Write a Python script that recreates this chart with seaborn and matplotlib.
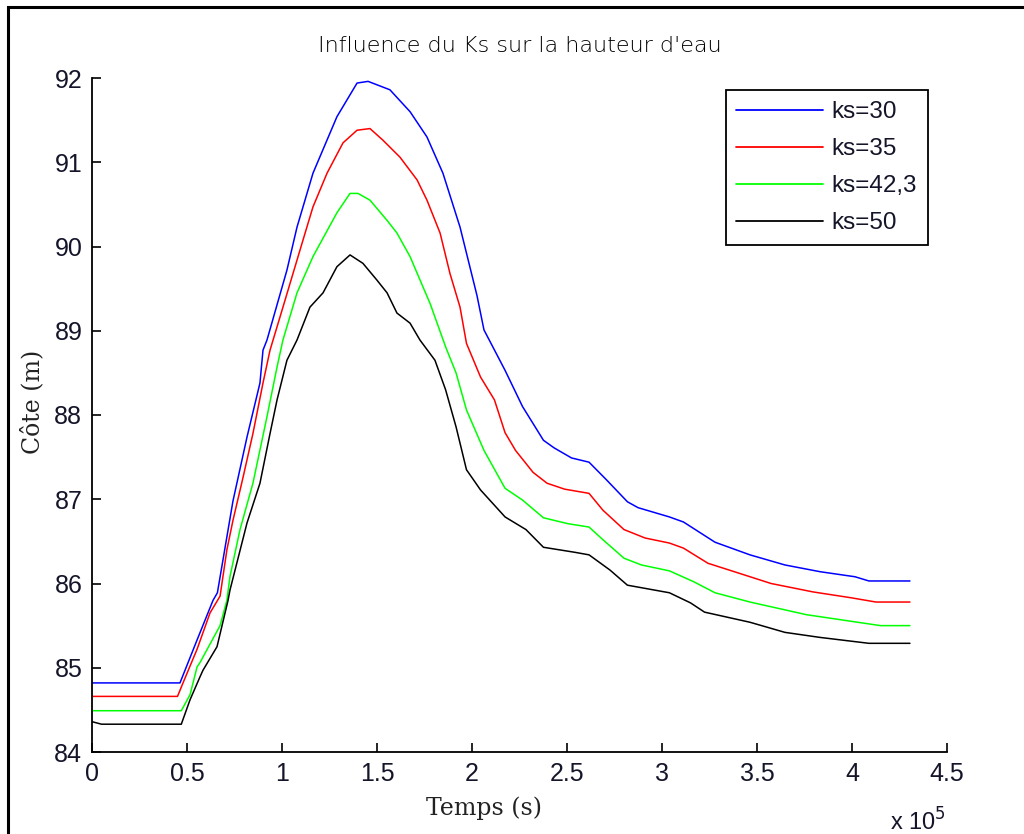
import numpy as np
import pandas as pd
import matplotlib
matplotlib.use("Agg")
import matplotlib.pyplot as plt
import seaborn as sns
from matplotlib.patches import Rectangle
from matplotlib.ticker import FuncFormatter

# ---- data (time in units of 1e5 s, water level in m) ----
labels = ["ks=30", "ks=35", "ks=42,3", "ks=50"]

t_ks30 = [0, 0.463, 0.553, 0.637, 0.66, 0.742, 0.816, 0.884, 0.90, 0.921, 1.026, 1.079, 1.163,
          1.289, 1.395, 1.453, 1.568, 1.674, 1.763, 1.847, 1.937, 2.026, 2.063, 2.174, 2.266,
          2.376, 2.432, 2.524, 2.616, 2.708, 2.818, 2.874, 3.039, 3.113, 3.279, 3.463, 3.647,
          3.832, 4.016, 4.089, 4.305]
h_ks30 = [84.82, 84.82, 85.33, 85.80, 85.89, 86.98, 87.74, 88.38, 88.77, 88.89, 89.72, 90.23, 90.87,
          91.54, 91.94, 91.96, 91.86, 91.60, 91.30, 90.87, 90.23, 89.42, 89.01, 88.53, 88.10,
          87.70, 87.61, 87.49, 87.44, 87.23, 86.97, 86.90, 86.79, 86.73, 86.49, 86.34, 86.22,
          86.14, 86.08, 86.03, 86.03]

t_ks35 = [0, 0.45, 0.479, 0.553, 0.621, 0.674, 0.71, 0.742, 0.795, 0.847, 0.90, 0.937, 0.953,
          1.005, 1.058, 1.111, 1.163, 1.237, 1.321, 1.395, 1.463, 1.532, 1.621, 1.711, 1.763,
          1.832, 1.884, 1.937, 1.971, 2.045, 2.118, 2.174, 2.229, 2.321, 2.395, 2.487, 2.616,
          2.689, 2.80, 2.911, 3.039, 3.113, 3.242, 3.353, 3.574, 3.795, 3.997, 4.126, 4.305]
h_ks35 = [84.66, 84.66, 84.82, 85.22, 85.65, 85.85, 86.40, 86.75, 87.26, 87.78, 88.38, 88.77, 88.89,
          89.28, 89.68, 90.08, 90.47, 90.87, 91.23, 91.38, 91.40, 91.26, 91.06, 90.79, 90.55,
          90.16, 89.68, 89.28, 88.85, 88.45, 88.18, 87.79, 87.58, 87.32, 87.19, 87.12, 87.07,
          86.87, 86.64, 86.54, 86.48, 86.42, 86.24, 86.16, 86.00, 85.90, 85.83, 85.78, 85.78]

t_ks42 = [0, 0.47, 0.516, 0.553, 0.568, 0.674, 0.71, 0.726, 0.779, 0.847, 0.921, 0.974, 1.005,
          1.079, 1.163, 1.289, 1.358, 1.40, 1.463, 1.553, 1.605, 1.674, 1.742, 1.780, 1.861,
          1.916, 1.971, 2.063, 2.174, 2.266, 2.376, 2.505, 2.616, 2.689, 2.80, 2.892, 3.039,
          3.168, 3.279, 3.463, 3.76, 4.06, 4.15, 4.305]
h_ks42 = [84.49, 84.49, 84.68, 85.01, 85.06, 85.50, 85.80, 86.08, 86.64, 87.19, 87.98, 88.57, 88.89,
          89.45, 89.88, 90.40, 90.63, 90.63, 90.55, 90.31, 90.16, 89.88, 89.52, 89.32, 88.81,
          88.50, 88.06, 87.58, 87.13, 86.99, 86.78, 86.71, 86.67, 86.52, 86.30, 86.22, 86.15,
          86.02, 85.89, 85.78, 85.63, 85.53, 85.50, 85.50]

t_ks50 = [0, 0.05, 0.47, 0.516, 0.568, 0.584, 0.658, 0.716, 0.726, 0.816, 0.884, 0.937, 0.974,
          1.026, 1.079, 1.147, 1.216, 1.289, 1.358, 1.426, 1.50, 1.553, 1.605, 1.674, 1.726,
          1.805, 1.861, 1.916, 1.971, 2.045, 2.174, 2.284, 2.376, 2.542, 2.616, 2.726, 2.818,
          3.039, 3.15, 3.224, 3.463, 3.647, 3.832, 4.089, 4.305]
h_ks50 = [84.36, 84.33, 84.33, 84.62, 84.89, 84.97, 85.25, 85.80, 85.92, 86.72, 87.19, 87.78, 88.18,
          88.65, 88.89, 89.28, 89.45, 89.76, 89.90, 89.80, 89.60, 89.45, 89.21, 89.09, 88.89,
          88.65, 88.30, 87.86, 87.35, 87.11, 86.79, 86.64, 86.43, 86.37, 86.34, 86.16, 85.98,
          85.89, 85.77, 85.66, 85.54, 85.42, 85.36, 85.29, 85.29]

x_ticks = [0, 0.5, 1, 1.5, 2, 2.5, 3, 3.5, 4, 4.5]
y_ticks = [84, 85, 86, 87, 88, 89, 90, 91, 92]

colors = {"ks=30": "#0000ff", "ks=35": "#ff0000", "ks=42,3": "#00ff00", "ks=50": "#000000"}

series = [(labels[0], t_ks30, h_ks30), (labels[1], t_ks35, h_ks35),
          (labels[2], t_ks42, h_ks42), (labels[3], t_ks50, h_ks50)]
frames = []
for lab, t, h in series:
    frames.append(pd.DataFrame({"t": np.array(t) * 1e5, "h": h, "ks": lab}))
df = pd.concat(frames, ignore_index=True)

# ---- style ----
sns.set_theme(style="white")
plt.rcParams["font.family"] = ["Liberation Sans", "DejaVu Sans"]

fig = plt.figure(figsize=(10.24, 8.34), dpi=100, facecolor="white")
ax = fig.add_axes([92 / 1024, 1 - 752 / 834, 855 / 1024, 674 / 834])

sns.lineplot(data=df, x="t", y="h", hue="ks", hue_order=labels, palette=colors,
             sort=False, estimator=None, linewidth=1.1, ax=ax)

ax.set_xlim(0, 4.5e5)
ax.set_ylim(84, 92)
ax.set_xticks([v * 1e5 for v in x_ticks])
ax.set_yticks(y_ticks)
ax.xaxis.set_major_formatter(FuncFormatter(lambda v, p: f"{v / 1e5:g}"))
ax.yaxis.set_major_formatter(FuncFormatter(lambda v, p: f"{v:g}"))

for s in ["top", "right"]:
    ax.spines[s].set_visible(False)
for s in ["left", "bottom"]:
    ax.spines[s].set_color("black")
    ax.spines[s].set_linewidth(1.3)

ax.tick_params(axis="both", direction="in", length=6.5, width=1.2, colors="black",
               labelsize=18, pad=7, left=True, bottom=True)
for lbl in ax.get_xticklabels() + ax.get_yticklabels():
    lbl.set_color("#15152a")

ax.set_title("Influence du Ks sur la hauteur d'eau",
             family=["DejaVu Sans"], fontsize=16, fontweight="light",
             color="#000000", pad=19)

ax.set_xlabel("Temps (s)", family=["DejaVu Serif"], fontsize=17, color="#222222")
ax.xaxis.set_label_coords((484 - 92) / 855, -0.066)
ax.set_ylabel("Côte (m)", family=["DejaVu Serif"], fontsize=17, color="#222222")
ax.yaxis.set_label_coords(-0.056, 0.52)

ax.text(0.999, -0.116, r"x 10$^{5}$", transform=ax.transAxes, ha="right",
        va="baseline", fontsize=17, color="#15152a")

leg = ax.legend(loc="upper right", bbox_to_anchor=(0.978, 0.982), fontsize=17.5,
                frameon=True, fancybox=False, framealpha=1, edgecolor="black",
                handlelength=3.55, handletextpad=0.37, labelspacing=0.62,
                borderpad=0.45, borderaxespad=0)
leg.get_frame().set_linewidth(1.3)
for line in leg.get_lines():
    line.set_linewidth(1.3)
for txt in leg.get_texts():
    txt.set_color("#15152a")

# outer frame of the original figure
fig.add_artist(Rectangle((8 / 1024, -0.1), 1.2, (1 - 7 / 834) + 0.1,
                         transform=fig.transFigure, fill=False,
                         edgecolor="black", linewidth=2.2))

fig.savefig("out.png", dpi=100, facecolor="white")
